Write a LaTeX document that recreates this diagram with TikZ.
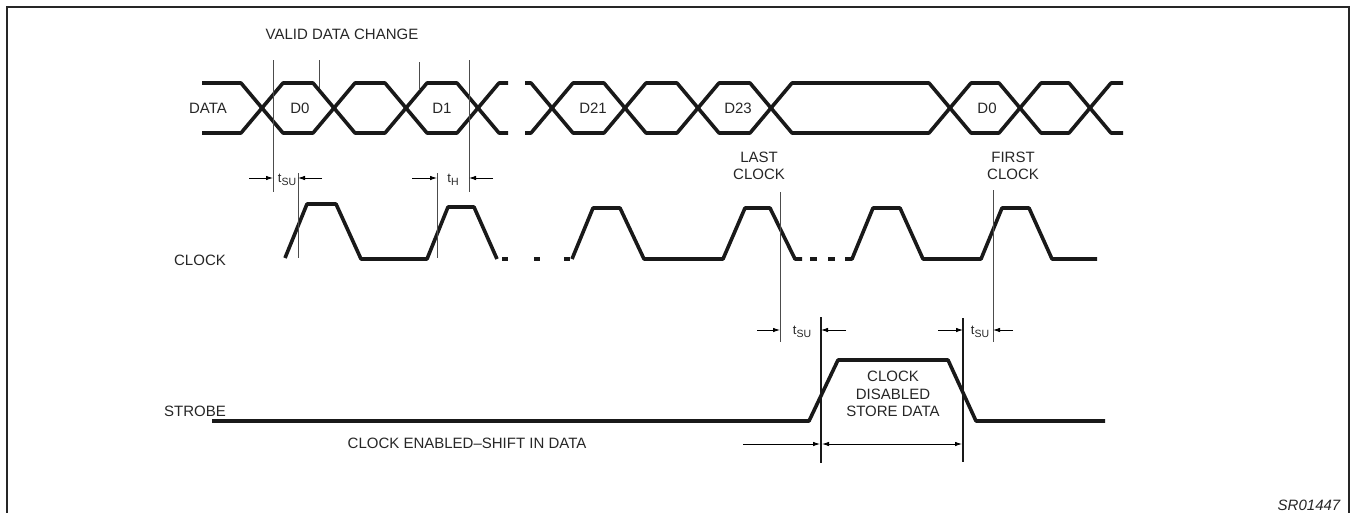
\documentclass[tikz,border=0pt]{standalone}
\usepackage{fontspec}
\setmainfont{Liberation Sans}
\usetikzlibrary{arrows.meta}
\newcommand{\tsub}[1]{t\raisebox{-3pt}{\fontsize{10.5}{10.5}\selectfont #1}}
\begin{document}
\begin{tikzpicture}[x=1pt,y=-1pt,
  wave/.style={line width=3.6pt,line join=round,black!90},
  thin/.style={line width=0.8pt,black!70},
  bar/.style={line width=2.2pt,black!90},
  dim/.style={line width=0.8pt,black,-{Latex[length=7pt,width=4.5pt]}},
  ddim/.style={line width=0.8pt,black,{Latex[length=7pt,width=4.5pt]}-{Latex[length=7pt,width=4.5pt]}},
  lbl/.style={font=\fontsize{15}{17.5}\selectfont,inner sep=0pt,align=center,text=black!85},
  sub/.style={font=\fontsize{13}{15}\selectfont,inner sep=0pt,text=black!85}]
\useasboundingbox (0,0) rectangle (1351,512);
% frame
\draw[line width=1.6pt,black!85] (7,515) -- (7,7) -- (1349,7) -- (1349,515);

% DATA waveform
\draw[wave] (202,83)--(241,83)--(283,133)--(313,133)--(355,83)--(385,83)--(427,133)--(457,133)--(499,83)--(508,83);
\draw[wave] (202,133)--(241,133)--(283,83)--(313,83)--(355,133)--(385,133)--(427,83)--(457,83)--(499,133)--(508,133);
\draw[wave] (525,83)--(531,83)--(573,133)--(604,133)--(646,83)--(677,83)--(719,133)--(750,133)--(792,83)--(929,83)--(971,133)--(999,133)--(1041,83)--(1069,83)--(1111,133)--(1123,133);
\draw[wave] (525,133)--(531,133)--(573,83)--(604,83)--(646,133)--(677,133)--(719,83)--(750,83)--(792,133)--(929,133)--(971,83)--(999,83)--(1041,133)--(1069,133)--(1111,83)--(1123,83);

% CLOCK waveform
\draw[wave] (285,258)--(307,204)--(336,204)--(361,259)--(427,259)--(448,207)--(474,207)--(497,259);
\draw[wave] (502,259)--(508,259) (534,259)--(540,259) (564,259)--(570,259);
\draw[wave] (572,259)--(593,208)--(620,208)--(644,259)--(723,259)--(745,208)--(770,208)--(795,259)--(802,259);
\draw[wave] (810,259)--(817,259) (828,259)--(835,259);
\draw[wave] (845,259)--(852,259)--(873,208)--(900,208)--(923,259)--(981,259)--(1002,208)--(1029,208)--(1052,259)--(1097,259);

% STROBE waveform
\draw[wave] (212,421)--(809,421)--(838,360)--(948,360)--(976,421)--(1105,421);

% reference lines
\draw[thin] (273,60)--(273,192);
\draw[thin] (319,60)--(319,88);
\draw[thin] (419,62)--(419,90);
\draw[thin] (469,60)--(469,192);
\draw[thin] (298,173)--(298,258);
\draw[thin] (437,173)--(437,258);
\draw[thin] (780,192)--(780,342);
\draw[thin] (993,190)--(993,342);
\draw[bar] (821,317)--(821,463);
\draw[bar] (963,318)--(963,462);

% dimension arrows
\draw[dim] (249,178)--(273,178);
\draw[dim] (322,178)--(298,178);
\draw[dim] (412,178)--(437,178);
\draw[dim] (493,178)--(469,178);
\draw[dim] (757,330)--(780,330);
\draw[dim] (846,330)--(821,330);
\draw[dim] (938,330)--(963,330);
\draw[dim] (1013,330)--(993,330);
\draw[dim] (743,444)--(820,444);
\draw[ddim] (822,444)--(962,444);

% labels
\node[lbl] (vdc) at (342,34) {VALID DATA CHANGE};
\node[lbl] (data) at (208,108) {DATA};
\node[lbl] (d0) at (300,108) {D0};
\node[lbl] (d1) at (442,108) {D1};
\node[lbl] (d21) at (593,108) {D21};
\node[lbl] (d23) at (738,108) {D23};
\node[lbl] (d0b) at (987,108) {D0};
\node[lbl] (last) at (759,166) {LAST\\CLOCK};
\node[lbl] (first) at (1013,166) {FIRST\\CLOCK};
\node[lbl] (clk) at (200,260) {CLOCK};
\node[lbl] (stb) at (195,411) {STROBE};
\node[lbl] (ena) at (467,443) {CLOCK ENABLED–SHIFT IN DATA};
\node[lbl] (dis) at (893,394) {CLOCK\\DISABLED\\STORE DATA};
\node[sub] (tsu1) at (287,180) {\tsub{SU}};
\node[sub] (th) at (453,180) {\tsub{H}};
\node[sub] (tsu2) at (802,332) {\tsub{SU}};
\node[sub] (tsu3) at (980,332) {\tsub{SU}};
\node[lbl,font=\fontsize{15}{17}\selectfont\itshape] (sr) at (1309,505) {SR01447};
\end{tikzpicture}
\end{document}
